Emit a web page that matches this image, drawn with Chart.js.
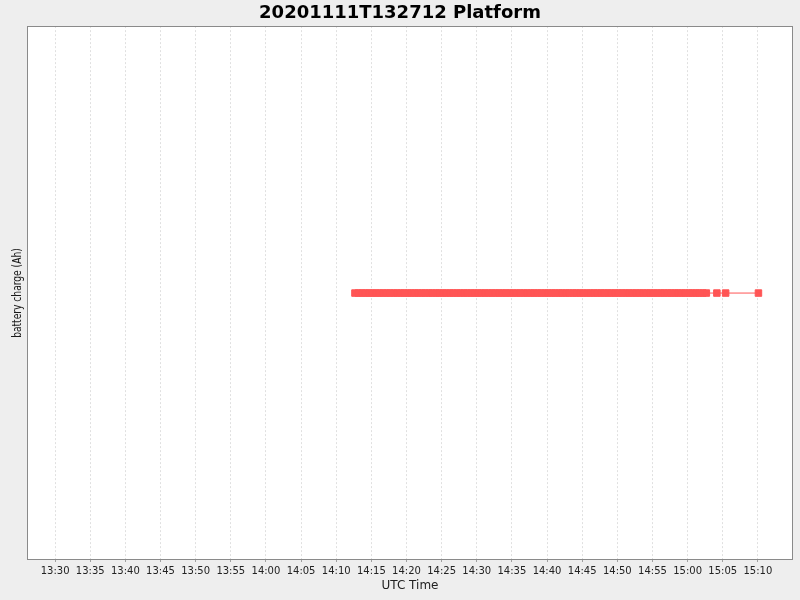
<!DOCTYPE html>
<html>
<head>
<meta charset="utf-8">
<script src="https://cdn.jsdelivr.net/npm/chart.js@4/dist/chart.umd.min.js"></script>
<style>
html, body { margin: 0; padding: 0; background: #eeeeee; }
canvas { display: block; }
</style>
</head>
<body>
<canvas id="chart" width="800" height="600"></canvas>
<script>
const chartTitle = "20201111T132712 Platform";
const xTitle = "UTC Time";
const yTitle = "battery charge (Ah)";

// x axis range and ticks (UTC)
const xStart = "13:26";
const xEnd = "15:15";
const tickLabels = ["13:30", "13:35", "13:40", "13:45", "13:50", "13:55", "14:00",
    "14:05", "14:10", "14:15", "14:20", "14:25", "14:30", "14:35", "14:40",
    "14:45", "14:50", "14:55", "15:00", "15:05", "15:10"];

// readings (UTC time of each sample)
const readingTimes = [
    "14:12:40", "14:13:10", "14:13:40", "14:14:10", "14:14:40", "14:15:10", "14:15:40", "14:16:10",
    "14:16:40", "14:17:10", "14:17:40", "14:18:10", "14:18:40", "14:19:10", "14:19:40", "14:20:10",
    "14:20:40", "14:21:10", "14:21:40", "14:22:10", "14:22:40", "14:23:10", "14:23:40", "14:24:10",
    "14:24:40", "14:25:10", "14:25:40", "14:26:10", "14:26:40", "14:27:10", "14:27:40", "14:28:10",
    "14:28:40", "14:29:10", "14:29:40", "14:30:10", "14:30:40", "14:31:10", "14:31:40", "14:32:10",
    "14:32:40", "14:33:10", "14:33:40", "14:34:10", "14:34:40", "14:35:10", "14:35:40", "14:36:10",
    "14:36:40", "14:37:10", "14:37:40", "14:38:10", "14:38:40", "14:39:10", "14:39:40", "14:40:10",
    "14:40:40", "14:41:10", "14:41:40", "14:42:10", "14:42:40", "14:43:10", "14:43:40", "14:44:10",
    "14:44:40", "14:45:10", "14:45:40", "14:46:10", "14:46:40", "14:47:10", "14:47:40", "14:48:10",
    "14:48:40", "14:49:10", "14:49:40", "14:50:10", "14:50:40", "14:51:10", "14:51:40", "14:52:10",
    "14:52:40", "14:53:10", "14:53:40", "14:54:10", "14:54:40", "14:55:10", "14:55:40", "14:56:10",
    "14:56:40", "14:57:10", "14:57:40", "14:58:10", "14:58:40", "14:59:10", "14:59:40", "15:00:10",
    "15:00:40", "15:01:10", "15:01:40", "15:02:10", "15:02:40",
    "15:04:10", "15:05:25", "15:10:05"
];
const charge = [
    0, 0, 0, 0, 0, 0, 0, 0,
    0, 0, 0, 0, 0, 0, 0, 0,
    0, 0, 0, 0, 0, 0, 0, 0,
    0, 0, 0, 0, 0, 0, 0, 0,
    0, 0, 0, 0, 0, 0, 0, 0,
    0, 0, 0, 0, 0, 0, 0, 0,
    0, 0, 0, 0, 0, 0, 0, 0,
    0, 0, 0, 0, 0, 0, 0, 0,
    0, 0, 0, 0, 0, 0, 0, 0,
    0, 0, 0, 0, 0, 0, 0, 0,
    0, 0, 0, 0, 0, 0, 0, 0,
    0, 0, 0, 0, 0, 0, 0, 0,
    0, 0, 0, 0, 0,
    0, 0, 0
];

// "HH:MM[:SS]" -> minutes since midnight
const toMinutes = s => {
    const [h, m, sec] = s.split(":").map(Number);
    return h * 60 + m + (sec || 0) / 60;
};

const points = readingTimes.map((t, i) => ({x: toMinutes(t), y: charge[i]}));
const tickValues = tickLabels.map(toMinutes);

const plotFrame = {
    id: "plotFrame",
    beforeDraw(chart) {
        const {ctx, chartArea: a} = chart;
        ctx.save();
        ctx.fillStyle = "#eeeeee";
        ctx.fillRect(0, 0, chart.width, chart.height);
        ctx.fillStyle = "#ffffff";
        ctx.fillRect(a.left, a.top, a.right - a.left, a.bottom - a.top);
        ctx.restore();
    },
    afterDraw(chart) {
        const {ctx, chartArea: a} = chart;
        ctx.save();
        ctx.strokeStyle = "#8a8a8a";
        ctx.lineWidth = 1;
        ctx.strokeRect(Math.round(a.left) + 0.5, Math.round(a.top) + 0.5,
            Math.round(a.right - a.left) - 1, Math.round(a.bottom - a.top) - 1);

        // y axis label, drawn narrow like the original renderer does
        const midY = (a.top + a.bottom) / 2;
        ctx.translate(21, midY);
        ctx.rotate(-Math.PI / 2);
        ctx.scale(0.76, 1);
        ctx.font = "12px 'DejaVu Sans', sans-serif";
        ctx.fillStyle = "#1a1a1a";
        ctx.textAlign = "center";
        ctx.textBaseline = "alphabetic";
        ctx.fillText(yTitle, 0, 0);
        ctx.restore();
    }
};

Chart.defaults.font.family = "'DejaVu Sans', sans-serif";

new Chart("chart", {
    type: "scatter",
    data: {
        datasets: [{
            label: "battery charge",
            data: points,
            showLine: true,
            borderColor: "#ff5555",
            borderWidth: 1,
            pointStyle: "rect",
            pointRadius: 4.6,
            pointBackgroundColor: "#ff5555",
            pointBorderColor: "#ff5555",
            pointBorderWidth: 1
        }]
    },
    options: {
        responsive: false,
        animation: false,
        devicePixelRatio: 1,
        layout: {padding: 0},
        plugins: {
            legend: {display: false},
            tooltip: {enabled: false},
            title: {
                display: true,
                text: chartTitle,
                color: "#000000",
                font: {size: 18, weight: "bold"},
                padding: {top: 2.5, bottom: 2}
            }
        },
        scales: {
            x: {
                type: "linear",
                min: toMinutes(xStart),
                max: toMinutes(xEnd),
                afterBuildTicks: scale => {
                    scale.ticks = tickValues.map(v => ({value: v}));
                },
                afterFit: scale => {
                    scale.height = 40;
                    scale.paddingLeft = 0;
                    scale.paddingRight = 7;
                },
                ticks: {
                    autoSkip: false,
                    maxRotation: 0,
                    color: "#222222",
                    font: {size: 10},
                    padding: 3,
                    callback: (value, i) => tickLabels[i]
                },
                grid: {
                    color: "#e0e0e0",
                    tickColor: "#a0a0a0",
                    tickLength: 2,
                    tickBorderDash: []
                },
                border: {display: false, dash: [2, 2]},
                title: {
                    display: true,
                    text: xTitle,
                    color: "#222222",
                    font: {size: 12},
                    padding: {top: 0, bottom: 7}
                }
            },
            y: {
                min: -1,
                max: 1,
                afterFit: scale => {
                    scale.width = 27;
                },
                ticks: {display: false},
                grid: {display: false},
                border: {display: false}
            }
        }
    },
    plugins: [plotFrame]
});
</script>
</body>
</html>
